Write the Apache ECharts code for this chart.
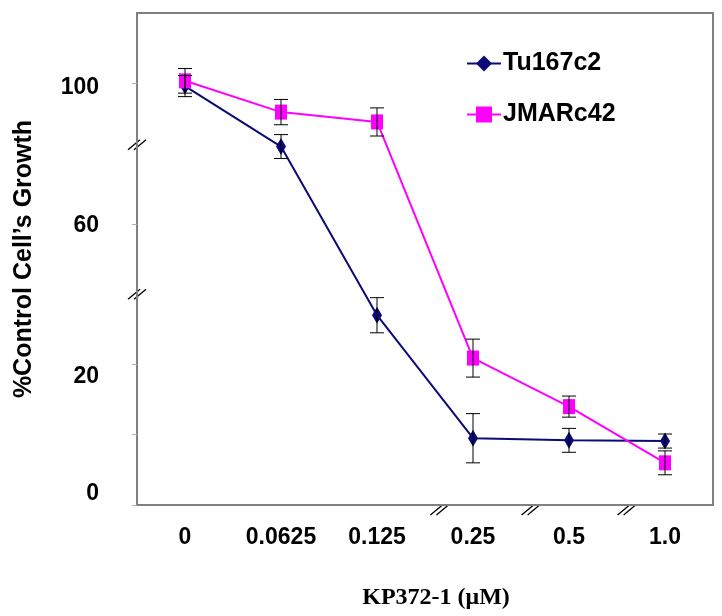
<!DOCTYPE html>
<html><head><meta charset="utf-8">
<script src="https://cdn.jsdelivr.net/npm/echarts@6/dist/echarts.min.js"></script>
<style>html,body{margin:0;padding:0;background:#fff}#c{width:722px;height:616px}</style>
</head><body><div id="c"></div>
<script>
// ---- data (values in the chart's labelled units, % of control) ----
const doses = ['0', '0.0625', '0.125', '0.25', '0.5', '1.0'];
const tuName = 'Tu167c2';
const tuMean = [99.2, 82.0, 27.0, 9.5, 9.2, 9.1];
const tuErr  = [3.0, 3.4, 2.5, 3.5, 1.7, 1.0];
const jmName = 'JMARc42';
const jmMean = [100.7, 91.8, 89.0, 20.9, 14.0, 6.0];
const jmErr  = [3.5, 3.6, 4.0, 2.7, 1.5, 1.7];
const yTickLabels = [0, 20, 60, 100];

// ---- broken y axis: 0..30 drawn at double scale, 40.. shifted up ----
function toAxis(v) { return v <= 30 ? v * 2 : (v < 40 ? 60 : v + 20); }
function fromAxis(d) { return d <= 60 ? d / 2 : d - 20; }

const NAVY = '#0b0b78', MAG = '#ff00ff', GREY = '#808080';
const FONT = '"Liberation Sans", Arial, sans-serif';
const GRID = { left: 137, right: 9, top: 13, bottom: 111 };

const labelShift = { 0: -11, 20: 12, 60: 2, 100: 4 };
const rich = {};
yTickLabels.forEach(function (t) {
  const s = labelShift[t];
  rich['l' + t] = { fontSize: 23, fontWeight: 'bold', fontFamily: FONT, color: '#000',
    padding: s >= 0 ? [2 * s, 0, 0, 0] : [0, 0, -2 * s, 0] };
});

function errSeries(name, mean, err) {
  return {
    type: 'custom', name: name + ' err', z: 5, silent: true,
    data: mean.map(function (m, i) { return [i, toAxis(m - err[i]), toAxis(m + err[i])]; }),
    encode: { x: 0, y: [1, 2] },
    renderItem: function (params, api) {
      const i = api.value(0);
      const lo = api.coord([i, api.value(1)]);
      const hi = api.coord([i, api.value(2)]);
      const w = 7, st = { stroke: '#000', lineWidth: 1 };
      return { type: 'group', children: [
        { type: 'line', shape: { x1: hi[0], y1: hi[1], x2: lo[0], y2: lo[1] }, style: st },
        { type: 'line', shape: { x1: hi[0] - w, y1: hi[1], x2: hi[0] + w, y2: hi[1] }, style: st },
        { type: 'line', shape: { x1: lo[0] - w, y1: lo[1], x2: lo[0] + w, y2: lo[1] }, style: st }
      ] };
    }
  };
}

const chart = echarts.init(document.getElementById('c'), null, { renderer: 'canvas' });
chart.setOption({
  animation: false,
  backgroundColor: '#fff',
  grid: Object.assign({ show: true, borderColor: GREY, borderWidth: 2, backgroundColor: 'transparent',
    containLabel: false, outerBoundsMode: 'none' }, GRID),
  legend: {
    data: [tuName, jmName], orient: 'vertical', left: 466, top: 51,
    itemWidth: 34, itemHeight: 20, itemGap: 26, padding: 0,
    textStyle: { fontSize: 25, fontWeight: 'bold', fontFamily: FONT, color: '#000', lineHeight: 24, padding: [0, 0, 0, -3] }
  },
  xAxis: {
    type: 'category', data: doses, boundaryGap: true,
    axisLine: { lineStyle: { color: GREY, width: 2 } },
    axisTick: { alignWithLabel: true, length: 5, lineStyle: { color: '#b0b0b0' } },
    axisLabel: { fontSize: 23, fontWeight: 'bold', fontFamily: FONT, color: '#000', margin: 21 },
    name: 'KP372-1 (μM)', nameLocation: 'middle', nameGap: 81,
    nameTextStyle: { fontSize: 24, fontWeight: 'bold', fontFamily: '"Liberation Serif", "Times New Roman", serif', color: '#000', padding: [0, 0, 0, 22] }
  },
  yAxis: {
    type: 'value', min: 0, max: 140, interval: 20,
    splitLine: { show: false },
    axisLine: { show: true, lineStyle: { color: GREY, width: 2 } },
    axisTick: { show: true, length: 5, lineStyle: { color: '#b0b0b0' }, customValues: [0, 20, 40, 80, 120] },
    axisLabel: {
      customValues: yTickLabels.map(toAxis), margin: 38, rich: rich,
      formatter: function (d) { const t = Math.round(fromAxis(d)); return '{l' + t + '|' + t + '}'; }
    },
    name: '%Control Cell’s Growth', nameLocation: 'middle', nameGap: 100, nameRotate: 90,
    nameTextStyle: { fontSize: 25, fontWeight: 'bold', fontFamily: FONT, color: '#000' }
  },
  series: [
    {
      type: 'line', name: tuName, z: 3, data: tuMean.map(toAxis),
      symbol: 'diamond', symbolSize: [10, 17],
      lineStyle: { color: NAVY, width: 2 }, itemStyle: { color: NAVY }
    },
    {
      type: 'line', name: jmName, z: 4, data: jmMean.map(toAxis),
      symbol: 'rect', symbolSize: [12, 15],
      lineStyle: { color: MAG, width: 2 }, itemStyle: { color: MAG }
    },
    errSeries(tuName, tuMean, tuErr),
    errSeries(jmName, jmMean, jmErr)
  ]
});

// ---- axis-break marks ("//") placed through the axes' own scales ----
const yBreaks = [60, 102.5];     // axis units
const xBreaks = [2.65, 3.6, 4.6]; // between categories
function mark(cx, cy) {
  const st = { stroke: '#000', lineWidth: 1.3 };
  return { type: 'group', z: 100, children: [
    { type: 'line', shape: { x1: cx - 9, y1: cy + 5, x2: cx + 3, y2: cy - 5 }, style: st },
    { type: 'line', shape: { x1: cx - 3, y1: cy + 5, x2: cx + 9, y2: cy - 5 }, style: st }
  ] };
}
function catPixel(v) {
  const a = Math.floor(v), f = v - a;
  const pa = chart.convertToPixel({ xAxisIndex: 0 }, a);
  const pb = chart.convertToPixel({ xAxisIndex: 0 }, a + 1);
  return pa + (pb - pa) * f;
}
const axisY = chart.convertToPixel({ yAxisIndex: 0 }, 0);
const marks = [];
yBreaks.forEach(function (v) { marks.push(mark(GRID.left, chart.convertToPixel({ yAxisIndex: 0 }, v))); });
xBreaks.forEach(function (v) { marks.push(mark(catPixel(v), axisY + 5)); });
chart.setOption({ graphic: marks });
</script>
</body></html>
